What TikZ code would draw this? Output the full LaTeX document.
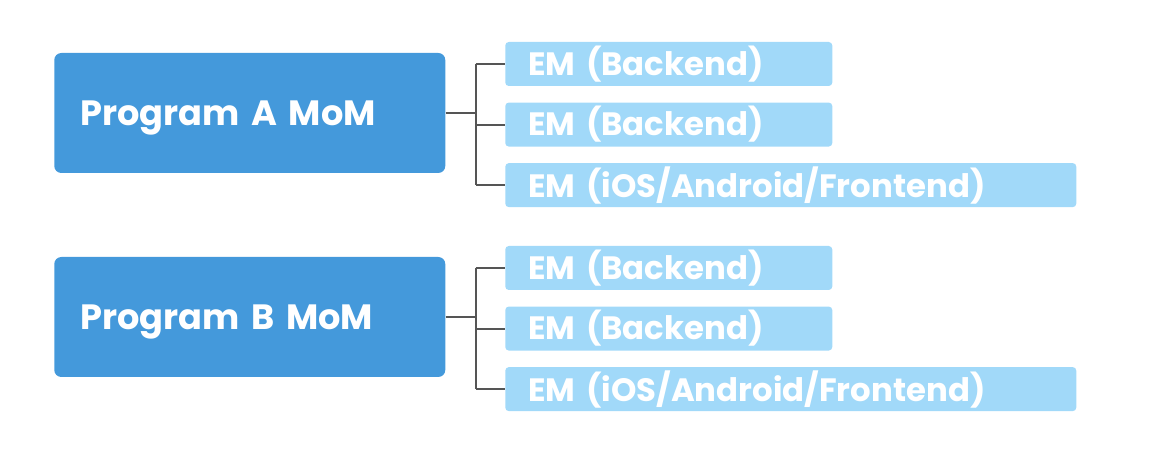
\documentclass[tikz,border=0pt]{standalone}
\usepackage{fontspec}
\setmainfont{Poppins}
\usepackage{xcolor}
\usetikzlibrary{positioning,calc}

\definecolor{momblue}{HTML}{4499DB}
\definecolor{emblue}{HTML}{A1D9F9}
\definecolor{linegray}{HTML}{555555}

\begin{document}
\begin{tikzpicture}[
    font=\bfseries,
    mom/.style={fill=momblue, text=white, rounded corners=5pt, align=left,
      text width=8.475cm, inner xsep=0.65cm, minimum height=3cm, text depth=0pt,
      font=\fontsize{25}{29}\selectfont\bfseries, anchor=west},
    em/.style={fill=emblue, text=white, rounded corners=2.5pt, align=left,
      inner xsep=0.575cm, minimum height=1.1cm, inner ysep=0pt,
      font=\fontsize{23}{27}\selectfont\bfseries},
    emshort/.style={em, text width=7.025cm},
    emlong/.style={em, text width=13.125cm},
    conn/.style={draw=linegray, line width=1.4pt}
  ]
    \useasboundingbox (0,0) rectangle (28.85,-11.7);

    % Managers of managers
    \node[mom] (pa) at (1.35,-2.825) {Program A MoM};
    \node[mom] (pb) at (1.35,-7.925) {Program B MoM};

    % Engineering managers, program A
    \node[emshort, anchor=west] (a1) at (12.625,-1.6) {EM (Backend)};
    \node[emshort, below=0.4cm of a1.south west, anchor=north west] (a2) {EM (Backend)};
    \node[emlong, below=0.4cm of a2.south west, anchor=north west] (a3) {EM (iOS/Android/Frontend)};

    % Engineering managers, program B
    \node[emshort, anchor=west] (b1) at (12.625,-6.7) {EM (Backend)};
    \node[emshort, below=0.4cm of b1.south west, anchor=north west] (b2) {EM (Backend)};
    \node[emlong, below=0.4cm of b2.south west, anchor=north west] (b3) {EM (iOS/Android/Frontend)};

    % Tree connectors
    \foreach \p/\e in {pa/a, pb/b} {
      \draw[conn] (\p.east) -- ++(0.75,0) coordinate (\p-j);
      \draw[conn] (\e1.west -| \p-j) -- (\e3.west -| \p-j);
      \foreach \i in {1,2,3} {
        \draw[conn] (\e\i.west -| \p-j) -- (\e\i.west);
      }
    }
\end{tikzpicture}
\end{document}
